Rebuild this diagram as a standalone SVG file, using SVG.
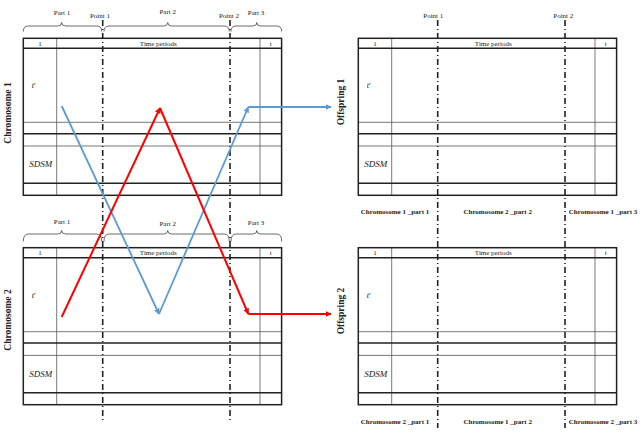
<svg xmlns="http://www.w3.org/2000/svg" width="640" height="438" viewBox="0 0 640 438">
<style>
text{font-family:"Liberation Serif","Times New Roman",serif;fill:#222}
.sm{font-size:7px}
.b{font-weight:bold}
.lbl{font-size:9.5px;font-weight:bold}
.it{font-style:italic}
.thk{stroke:#222;stroke-width:1.5;fill:none}
.thn{stroke:#555;stroke-width:0.8;fill:none}
.brace{stroke:#444;stroke-width:0.8;fill:none}
.cut{stroke:#222;stroke-width:1.6;fill:none;stroke-dasharray:6 3 1 3}
.blue{stroke:#5b9bd5;stroke-width:1.8;fill:none}
.red{stroke:#ff0000;stroke-width:2;fill:none}
</style>
<defs>
<marker id="ab" viewBox="0 0 10 10" refX="9" refY="5" markerWidth="6" markerHeight="6" markerUnits="userSpaceOnUse" orient="auto"><path d="M0,0 L10,5 L0,10 z" fill="#5b9bd5"/></marker>
<marker id="ar" viewBox="0 0 10 10" refX="9" refY="5" markerWidth="6" markerHeight="6" markerUnits="userSpaceOnUse" orient="auto"><path d="M0,0 L10,5 L0,10 z" fill="#ff0000"/></marker>
<g id="grid">
<line class="thn" x1="33.4" y1="0" x2="33.4" y2="157"/>
<line class="thn" x1="236.7" y1="0" x2="236.7" y2="157"/>
<line class="thn" x1="0" y1="84" x2="258.3" y2="84"/>
<line class="thn" x1="0" y1="107.7" x2="258.3" y2="107.7"/>
<line class="thk" x1="0" y1="10" x2="258.3" y2="10"/>
<line class="thk" x1="0" y1="95.4" x2="258.3" y2="95.4"/>
<line class="thk" x1="0" y1="145" x2="258.3" y2="145"/>
<rect class="thk" x="0" y="0" width="258.3" height="157"/>
<text class="sm" x="16.7" y="7.5" text-anchor="middle">1</text>
<text class="sm" x="135" y="7.5" text-anchor="middle">Time periods</text>
<text class="sm" x="247.4" y="7.5" text-anchor="middle">t</text>
<text class="it" x="8.5" y="50" font-size="8">t<tspan font-size="5" dy="-3">r</tspan></text>
<text class="it" x="6" y="129.2" font-size="9">SDSM</text>
</g>
</defs>
<g id="chromosome1">
<use href="#grid" x="23.3" y="38.3"/>
<text class="lbl" transform="translate(11,113) rotate(-90)" text-anchor="middle">Chromosome 1</text>
<path class="brace" d="M23.3,31.5 Q23.3,26 28.3,26 L57.7,26 Q61.7,26 61.7,22.5 Q61.7,26 65.7,26 L96.7,26 Q101.7,26 101.7,31.5"/>
<path class="brace" d="M104,31.5 Q104,26 109,26 L163.7,26 Q167.7,26 167.7,22.5 Q167.7,26 171.7,26 L224.3,26 Q229.3,26 229.3,31.5"/>
<path class="brace" d="M231,31.5 Q231,26 236,26 L252.7,26 Q256.7,26 256.7,22.5 Q256.7,26 260.7,26 L276.7,26 Q281.7,26 281.7,31.5"/>
<text class="sm" x="62" y="15" text-anchor="middle">Part 1</text>
<text class="sm" x="100" y="17.5" text-anchor="middle">Point 1</text>
<text class="sm" x="167.7" y="13.5" text-anchor="middle">Part 2</text>
<text class="sm" x="229" y="17.5" text-anchor="middle">Point 2</text>
<text class="sm" x="256" y="14.5" text-anchor="middle">Part 3</text>
</g>
<g id="chromosome2">
<use href="#grid" x="23.3" y="247.7"/>
<text class="lbl" transform="translate(11,320) rotate(-90)" text-anchor="middle">Chromosome 2</text>
<path class="brace" d="M23.3,241.5 Q23.3,234 28.3,234 L57.7,234 Q61.7,234 61.7,230.5 Q61.7,234 65.7,234 L96.7,234 Q101.7,234 101.7,241.5"/>
<path class="brace" d="M104,241.5 Q104,234 109,234 L163.7,234 Q167.7,234 167.7,230.5 Q167.7,234 171.7,234 L224.3,234 Q229.3,234 229.3,241.5"/>
<path class="brace" d="M231,241.5 Q231,234 236,234 L252.7,234 Q256.7,234 256.7,230.5 Q256.7,234 260.7,234 L276.7,234 Q281.7,234 281.7,241.5"/>
<text class="sm" x="62" y="223.5" text-anchor="middle">Part 1</text>
<text class="sm" x="167.7" y="225.5" text-anchor="middle">Part 2</text>
<text class="sm" x="256" y="224.5" text-anchor="middle">Part 3</text>
</g>
<g id="offspring1">
<use href="#grid" x="358.3" y="38.3"/>
<text class="lbl" transform="translate(344,102) rotate(-90)" text-anchor="middle">Offspring 1</text>
<text class="sm" x="433.3" y="17.5" text-anchor="middle">Point 1</text>
<text class="sm" x="563.3" y="17.5" text-anchor="middle">Point 2</text>
<text class="sm b" x="395" y="214" text-anchor="middle">Chromosome 1 _part 1</text>
<text class="sm b" x="497.7" y="214" text-anchor="middle">Chromosome 2 _part 2</text>
<text class="sm b" x="603" y="214" text-anchor="middle">Chromosome 1 _part 3</text>
</g>
<g id="offspring2">
<use href="#grid" x="358.3" y="247.7"/>
<text class="lbl" transform="translate(344,311) rotate(-90)" text-anchor="middle">Offspring 2</text>
<text class="sm b" x="395" y="424" text-anchor="middle">Chromosome 2 _part 1</text>
<text class="sm b" x="497.7" y="424" text-anchor="middle">Chromosome 1 _part 2</text>
<text class="sm b" x="603" y="424" text-anchor="middle">Chromosome 2 _part 3</text>
</g>
<g id="crossover-points">
<line class="cut" x1="102.7" y1="20" x2="102.7" y2="422"/>
<line class="cut" x1="230" y1="20" x2="230" y2="422"/>
<line class="cut" x1="437.7" y1="20" x2="437.7" y2="428"/>
<line class="cut" x1="565" y1="20" x2="565" y2="428"/>
</g>
<g id="connectors">
<line class="blue" x1="61.7" y1="106" x2="159" y2="314" marker-end="url(#ab)"/>
<line class="blue" x1="159" y1="314" x2="248.3" y2="107" marker-end="url(#ab)"/>
<line class="blue" x1="248.3" y1="107" x2="331" y2="107" marker-end="url(#ab)"/>
<line class="red" x1="61.7" y1="317" x2="160" y2="108" marker-end="url(#ar)"/>
<line class="red" x1="160" y1="108" x2="248.3" y2="314" marker-end="url(#ar)"/>
<line class="red" x1="248.3" y1="314" x2="331" y2="314" marker-end="url(#ar)"/>
</g>
</svg>
